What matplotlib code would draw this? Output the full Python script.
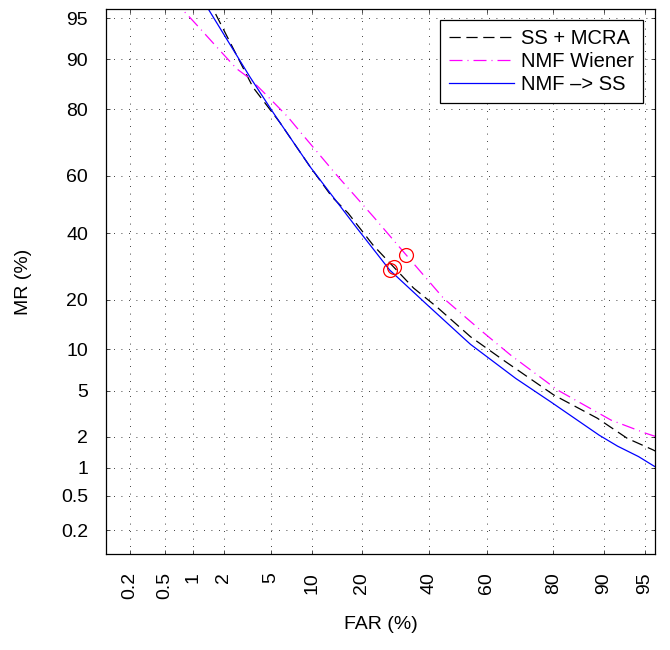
import numpy as np
import matplotlib
matplotlib.use("Agg")
import matplotlib.pyplot as plt
from statistics import NormalDist

plt.rcParams['font.family'] = ['Liberation Sans', 'DejaVu Sans']

# ---- data (percent) ----
tick_vals = [0.2, 0.5, 1, 2, 5, 10, 20, 40, 60, 80, 90, 95]
tick_labels = ['0.2', '0.5', '1', '2', '5', '10', '20', '40', '60', '80', '90', '95']

ss_mcra_far = [1.27, 1.58, 2.18, 3.6, 5.9, 9.75, 13.5, 16.8, 22.9, 28.7, 34.9, 42.8, 54.5, 65.7, 80.1, 89.0, 93.2, 95.7, 96.6]
ss_mcra_mr = [97.1, 95.8, 92.9, 85.0, 76.6, 63.0, 52.6, 46.9, 35.9, 29.0, 23.0, 18.2, 12.1, 8.4, 4.6, 2.94, 1.93, 1.5, 1.3]

nmf_wiener_far = [0.5, 0.76, 0.86, 1.18, 1.84, 2.6, 3.4, 4.96, 6.8, 8.5, 14.4, 23.0, 32.5, 45.1, 58.0, 67.9, 81.0, 91.1, 95.1, 96.5]
nmf_wiener_mr = [97.1, 95.8, 95.4, 94.0, 91.3, 88.5, 86.7, 82.5, 78.0, 73.5, 60.2, 45.6, 32.8, 20.3, 13.3, 9.15, 5.04, 2.83, 2.15, 1.9]

nmf_ss_far = [1.09, 1.42, 3.4, 5.24, 5.9, 9.75, 18.8, 27.5, 39.2, 52.0, 54.5, 69.5, 79.3, 89.3, 92.0, 94.4, 95.75, 96.6]
nmf_ss_mr = [97.1, 95.8, 87.0, 79.2, 76.6, 63.0, 41.7, 28.1, 18.9, 11.9, 10.8, 6.2, 4.05, 2.07, 1.63, 1.29, 1.04, 0.89]

eer_far = [27.5, 28.7, 32.5]
eer_mr = [28.1, 29.0, 32.8]

# ---- probit (normal deviate) scale ----
_nd = NormalDist()
_ppf = np.vectorize(_nd.inv_cdf, otypes=[float])
_cdf = np.vectorize(_nd.cdf, otypes=[float])


def fwd(p):
    p = np.clip(np.asarray(p, dtype=float) / 100.0, 1e-9, 1 - 1e-9)
    if p.size == 0:
        return p
    return _ppf(p)


def inv(z):
    z = np.asarray(z, dtype=float)
    if z.size == 0:
        return z
    return _cdf(z) * 100.0


fig = plt.figure(figsize=(6.7, 6.5), dpi=100)
ax = fig.add_axes([106 / 670, 1 - 554 / 650, (655 - 106) / 670, (554 - 9) / 650])
ax.set_xscale('function', functions=(fwd, inv))
ax.set_yscale('function', functions=(fwd, inv))

ax.plot(ss_mcra_far, ss_mcra_mr, color='black', lw=0.9, dashes=(9, 4.5), label='SS + MCRA')
ax.plot(nmf_wiener_far, nmf_wiener_mr, color='#ff00ff', lw=0.9, dashes=(10.4, 4, 0.8, 4), label='NMF Wiener')
ax.plot(nmf_ss_far, nmf_ss_mr, color='#0000ff', lw=0.9, ls='-', label='NMF \u2013> SS')
ax.plot(eer_far, eer_mr, ls='none', marker='o', ms=10, mfc='none', mec='red', mew=0.9)

ax.set_xlim(0.1, 95.85)
ax.set_ylim(0.1, 95.8)

ax.set_xticks(tick_vals)
ax.set_xticklabels(tick_labels, rotation=90, va='top', ha='center')
ax.set_yticks(tick_vals)
ax.set_yticklabels(tick_labels)
ax.xaxis.set_minor_locator(matplotlib.ticker.NullLocator())
ax.yaxis.set_minor_locator(matplotlib.ticker.NullLocator())

ax.tick_params(direction='in', length=3, width=0.5, top=True, right=True,
               labelsize=14, pad=13)
ax.grid(True, color='black', linestyle=(0, (1, 8)), linewidth=0.6)
for s in ax.spines.values():
    s.set_linewidth(0.9)

ax.set_xlabel('FAR (%)', fontsize=14, labelpad=12)
ax.set_ylabel('MR (%)', fontsize=14, labelpad=21)

leg = ax.legend(loc='upper right', bbox_to_anchor=(0.978, 0.98), borderaxespad=0,
                fontsize=14.5, handlelength=3.2, handletextpad=0.35, labelspacing=0.2,
                borderpad=0.45, fancybox=False, framealpha=1, edgecolor='black')
leg.get_frame().set_linewidth(0.9)

fig.savefig('out.png', dpi=100)
